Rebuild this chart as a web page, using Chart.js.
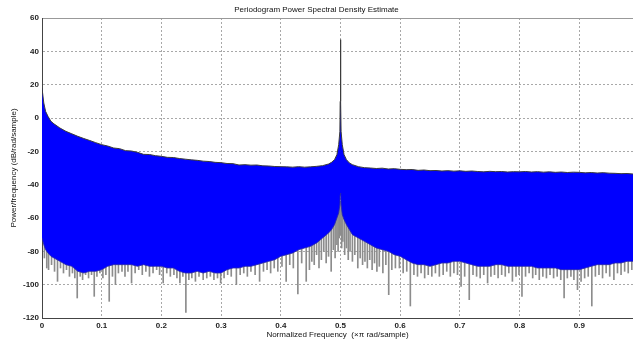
<!DOCTYPE html>
<html>
<head>
<meta charset="utf-8">
<script src="https://cdn.jsdelivr.net/npm/chart.js@4/dist/chart.umd.min.js"></script>
<style>
  html, body { margin: 0; padding: 0; background: #fff; }
  #wrap { width: 633px; height: 343px; position: relative; }
</style>
</head>
<body>
<div id="wrap"><canvas id="psd"></canvas></div>
<script>
// frequency grid (x pi rad/sample), finer around the tone at 0.5
const freq = [
  0, 0.003, 0.006, 0.01, 0.015, 0.02, 0.03, 0.04, 0.05, 0.06, 0.07, 0.08, 0.09,
  0.10, 0.11, 0.12, 0.13, 0.14, 0.15, 0.16, 0.17, 0.18, 0.19,
  0.20, 0.21, 0.22, 0.23, 0.24, 0.25, 0.26, 0.27, 0.28, 0.29,
  0.30, 0.31, 0.32, 0.33, 0.34, 0.35, 0.36, 0.37, 0.38, 0.39,
  0.40, 0.41, 0.42, 0.43, 0.44, 0.45, 0.46, 0.47, 0.48, 0.485, 0.49, 0.494, 0.497, 0.499, 0.4995,
  0.5, 0.5005, 0.501, 0.503, 0.506, 0.51, 0.515, 0.52, 0.53, 0.54, 0.55, 0.56, 0.57, 0.58, 0.59,
  0.60, 0.61, 0.62, 0.63, 0.64, 0.65, 0.66, 0.67, 0.68, 0.69,
  0.70, 0.71, 0.72, 0.73, 0.74, 0.75, 0.76, 0.77, 0.78, 0.79,
  0.80, 0.81, 0.82, 0.83, 0.84, 0.85, 0.86, 0.87, 0.88, 0.89,
  0.90, 0.91, 0.92, 0.93, 0.94, 0.95, 0.96, 0.97, 0.98, 0.99
];

// top edge of the spectrum (dB/rad/sample)
const upperDb = [
  18, 9, 4, 1, -2, -3.5, -6, -8, -9.5, -11, -12.3, -13.5, -14.8,
  -16, -16.8, -18, -18.4, -19.6, -19.8, -20.6, -21.8, -21.9, -22.6,
  -23, -23.6, -23.7, -24.3, -24.7, -25.1, -25.4, -25.9, -26.1, -26.6,
  -26.8, -27.3, -27.4, -28.2, -28, -28.3, -28.2, -28.7, -28.8, -29.1,
  -29.2, -29.3, -29.5, -29.2, -29.5, -29.3, -29, -28.6, -27.6, -26.6, -25, -22, -16, -8, 10,
  47, 10, -8, -16, -22, -25, -27, -28, -29.2, -29.8, -30, -30.3, -30.1, -30.6, -30.4,
  -30.8, -31, -30.9, -31.4, -31.2, -31.6, -31.5, -31.8, -31.6, -31.9,
  -31.7, -32, -31.8, -32.1, -32.3, -32, -32.2, -32.1, -32.4, -32.2,
  -32.3, -32.1, -32.4, -32.2, -32.5, -32.3, -32.6, -32.4, -32.7, -32.5,
  -32.6, -32.9, -32.7, -33, -32.8, -33.1, -33.2, -33.4, -33.3, -33.6
];

// bottom edge of the dense blue band
const lowerDb = [
  -72, -76, -79, -81, -83, -84, -86, -88, -89, -92, -93, -92, -92,
  -91, -89, -88, -88, -88, -88, -89, -88, -89, -89,
  -89, -90, -90, -92, -93, -93, -92, -93, -92, -93,
  -93, -91, -90, -90, -89, -89, -88, -87, -86, -85,
  -83, -82, -81, -79, -78, -77, -75, -72, -69, -67, -64, -60, -57, -52, -46,
  -45, -46, -52, -58, -61, -64, -67, -70, -72, -74, -76, -78, -79, -80, -82,
  -83, -85, -87, -88, -88, -89, -88, -87, -87, -86,
  -86, -87, -88, -89, -89, -89, -88, -88, -89, -89,
  -89, -89, -89, -90, -90, -90, -90, -91, -91, -91,
  -91, -90, -89, -88, -88, -88, -87, -87, -86, -86
];

// downward grey spikes below the band
const dipFreq = [
  0.004, 0.008, 0.011, 0.016, 0.021, 0.026, 0.031, 0.036, 0.041, 0.046, 0.051, 0.055, 0.059, 0.064, 0.068,
  0.073, 0.078, 0.083, 0.0875, 0.092, 0.097, 0.102, 0.107, 0.1126, 0.118, 0.123, 0.128, 0.134, 0.139, 0.144,
  0.15, 0.156, 0.162, 0.168, 0.174, 0.18, 0.186, 0.192, 0.197, 0.203, 0.209, 0.215, 0.221, 0.226, 0.231,
  0.236, 0.241, 0.246, 0.251, 0.257, 0.263, 0.27, 0.276, 0.282, 0.288, 0.294, 0.2993, 0.305, 0.311, 0.317,
  0.3256, 0.332, 0.338, 0.344, 0.35, 0.357, 0.3645, 0.371, 0.377, 0.383, 0.389, 0.395, 0.402, 0.409, 0.415,
  0.421, 0.4286, 0.435, 0.4426, 0.448, 0.452, 0.456, 0.46, 0.464, 0.468, 0.472, 0.476, 0.48, 0.4844, 0.488,
  0.491, 0.494, 0.496, 0.498, 0.5, 0.502, 0.504, 0.507, 0.51, 0.513, 0.516, 0.52, 0.524, 0.529, 0.533,
  0.537, 0.541, 0.545, 0.549, 0.553, 0.557, 0.561, 0.565, 0.571, 0.576, 0.5808, 0.586, 0.592, 0.5987, 0.605,
  0.611, 0.617, 0.623, 0.629, 0.635, 0.641, 0.647, 0.653, 0.659, 0.6656, 0.672, 0.678, 0.684, 0.69, 0.696,
  0.702, 0.708, 0.7157, 0.722, 0.728, 0.734, 0.74, 0.7464, 0.752, 0.758, 0.764, 0.77, 0.776, 0.782, 0.788,
  0.794, 0.799, 0.804, 0.81, 0.816, 0.822, 0.827, 0.833, 0.839, 0.845, 0.851, 0.857, 0.863, 0.869, 0.8746,
  0.88, 0.886, 0.891, 0.897, 0.903, 0.909, 0.915, 0.921, 0.927, 0.933, 0.939, 0.945, 0.951, 0.958, 0.964,
  0.97, 0.976, 0.982, 0.988
];
const dipDb = [
  -84, -90, -91, -88, -92, -98, -90, -93, -91, -95, -93, -96, -108, -95, -97,
  -94, -96, -94, -107, -95, -93, -96, -94, -110, -95, -100, -93, -92, -95, -92,
  -99, -93, -91, -94, -92, -95, -93, -91, -94, -99, -93, -95, -94, -96, -99,
  -95, -116.6, -97, -96, -98, -95, -97, -96, -95, -97, -96, -99, -96, -94, -95,
  -100, -94, -93, -95, -92, -94, -98, -92, -91, -93, -90, -92, -89, -98, -88,
  -90, -105.6, -87, -98, -91, -86, -88, -82, -90, -85, -80, -87, -83, -92, -79,
  -84, -76, -80, -72, -70, -78, -74, -82, -78, -85, -80, -86, -82, -90, -84,
  -88, -86, -90, -85, -91, -87, -92, -89, -93, -88, -106, -91, -90, -90, -93,
  -92, -112.8, -94, -95, -93, -96, -94, -95, -93, -95, -94, -92, -95, -93, -94,
  -101, -95, -109, -94, -95, -96, -94, -99, -95, -94, -96, -94, -95, -93, -98,
  -95, -94, -107, -95, -93, -96, -94, -97, -95, -96, -94, -96, -95, -97, -108,
  -96, -95, -97, -103, -98, -96, -95, -112.8, -95, -94, -96, -93, -95, -97, -93,
  -94, -92, -93, -91
];
const dipTop = -50;

const yTicks = [60, 40, 20, 0, -20, -40, -60, -80, -100, -120];
const xTicks = [0, 0.1, 0.2, 0.3, 0.4, 0.5, 0.6, 0.7, 0.8, 0.9];

const FONT = "'Liberation Sans', Arial, sans-serif";

const upperPts = freq.map((f, i) => ({ x: f, y: upperDb[i] }));
const lowerPts = freq.map((f, i) => ({ x: f, y: lowerDb[i] }));
const dipPts = dipFreq.map((f, i) => ({ x: f, y: [dipDb[i], dipTop] }));

new Chart(document.getElementById('psd'), {
  type: 'line',
  data: {
    datasets: [
      {
        label: 'upper',
        data: upperPts,
        borderColor: '#3a3a3a',
        borderWidth: 1,
        backgroundColor: '#0000ff',
        fill: '+1',
        pointRadius: 0,
        tension: 0,
        order: 1
      },
      {
        label: 'lower',
        data: lowerPts,
        borderColor: 'rgba(40,40,170,0.8)',
        borderWidth: 1,
        fill: false,
        pointRadius: 0,
        tension: 0,
        order: 0
      },
      {
        type: 'bar',
        label: 'dips',
        data: dipPts,
        backgroundColor: '#8c8c8c',
        borderWidth: 0,
        barThickness: 1,
        grouped: false,
        order: 3
      }
    ]
  },
  options: {
    responsive: true,
    maintainAspectRatio: false,
    animation: false,
    events: [],
    layout: { padding: { left: 0, right: 0, top: 0, bottom: 0 } },
    plugins: {
      legend: { display: false },
      tooltip: { enabled: false },
      title: {
        display: true,
        text: 'Periodogram Power Spectral Density Estimate',
        color: '#111',
        font: { family: FONT, size: 8, weight: 'normal' },
        padding: { top: 5, bottom: 3.4 }
      }
    },
    scales: {
      x: {
        type: 'linear',
        min: 0,
        max: 0.99,
        offset: false,
        afterBuildTicks: s => { s.ticks = xTicks.map(v => ({ value: v })); },
        afterFit: s => { s.height = 25; },
        ticks: {
          includeBounds: false,
          color: '#222',
          padding: 3,
          maxRotation: 0,
          font: { family: FONT, size: 8, weight: 'bold' },
          callback: v => String(v)
        },
        grid: { color: '#a8a8a8', lineWidth: 1, drawTicks: false, offset: false },
        border: { color: '#444', width: 1, dash: [2, 2] },
        title: {
          display: true,
          text: 'Normalized Frequency  (\u00d7\u03c0 rad/sample)',
          color: '#111',
          font: { family: FONT, size: 8 },
          padding: { top: 0, bottom: 3 }
        }
      },
      y: {
        type: 'linear',
        min: -120,
        max: 60,
        afterBuildTicks: s => { s.ticks = yTicks.map(v => ({ value: v })); },
        afterFit: s => { s.width = 42; },
        ticks: {
          color: '#222',
          padding: 3,
          font: { family: FONT, size: 8, weight: 'bold' }
        },
        grid: {
          color: c => (c.tick && c.tick.value === 60) ? '#999' : '#a8a8a8',
          lineWidth: 1,
          drawTicks: false
        },
        border: {
          color: '#444',
          width: 1,
          dash: c => (c.tick && c.tick.value === 60) ? [] : [2, 2]
        },
        title: {
          display: true,
          text: 'Power/frequency (dB/rad/sample)',
          color: '#111',
          font: { family: FONT, size: 8 },
          padding: { top: 9, bottom: 0 }
        }
      }
    }
  }
});
</script>
</body>
</html>
